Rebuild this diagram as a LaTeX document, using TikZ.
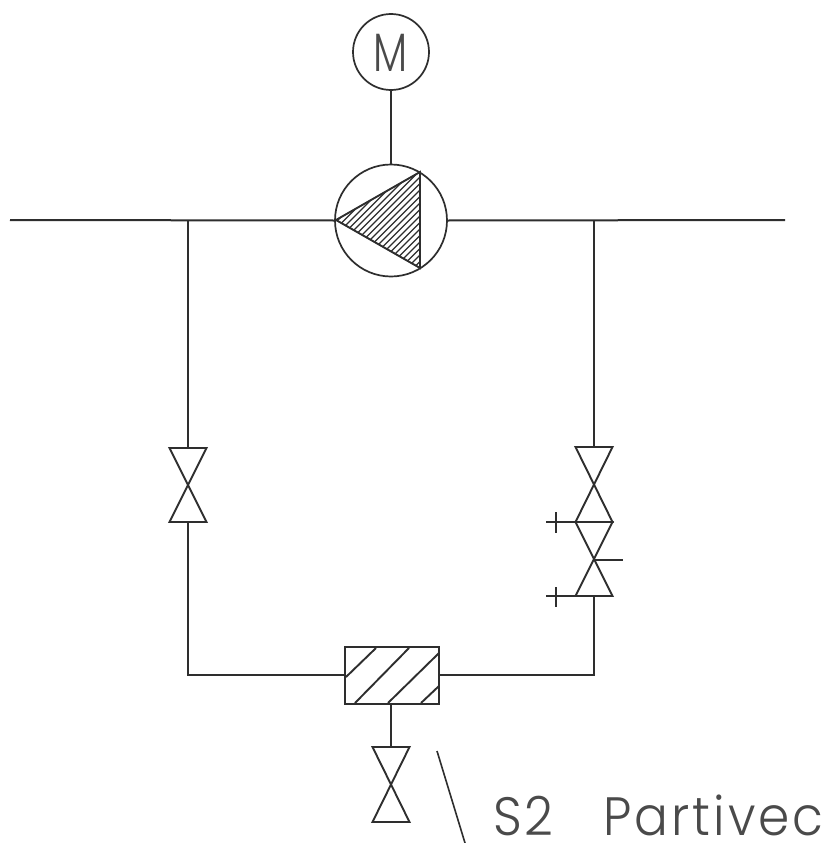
\documentclass[tikz,border=0pt]{standalone}
\usepackage{fontspec}
\newfontfamily\cadfont[LetterSpace=6]{Poppins Light}
\definecolor{ink}{HTML}{2E2E2E}
\definecolor{txt}{HTML}{4A4A4A}
\tikzset{
  pipe/.style={draw=ink,line width=2pt},
  symb/.style={draw=ink,line width=1.9pt,line join=miter},
  circ/.style={circle,draw=ink,line width=1.7pt,inner sep=0pt},
  lbl/.style={inner sep=0pt,text=txt,font=\cadfont\fontsize{54}{54}\selectfont,anchor=base west,xscale=0.93},
  hatchl/.style={draw=ink,line width=1.2pt},
}
% valve: \myvalve{x}{top y}{waist y}{bottom y}{half width}
\newcommand{\myvalve}[5]{\draw[symb] (#1-#5,#2) -- (#1+#5,#2) -- (#1-#5,#4) -- (#1+#5,#4) -- cycle;}
\begin{document}
\begin{tikzpicture}[x=1pt,y=-1pt]
\useasboundingbox (0,0) rectangle (825,843);
\fill[white] (0,0) rectangle (825,843);
% nodes
\node[circ,minimum size=76pt] (motor) at (391,52) {};
\node[inner sep=0pt,text=txt,font=\cadfont\fontsize{54}{54}\selectfont,xscale=0.75] (mlabel) at (391,53) {M};
\node[circ,minimum size=112pt] (pump) at (391,220.5) {};
\node[draw=ink,line width=1.9pt,minimum width=94pt,minimum height=57pt,inner sep=0pt] (filter) at (392,675.5) {};
% ends
\coordinate (inlet) at (10,220);
\coordinate (outlet) at (785,220);
\coordinate (teeL) at (188,220);
\coordinate (teeR) at (594,220);
\coordinate (vLt) at (188,448);
\coordinate (vLb) at (188,522);
\coordinate (vRt) at (594,447);
\coordinate (vRb) at (594,596);
\coordinate (cL) at (188,675);
\coordinate (cR) at (594,675);
\coordinate (vBt) at (391,747);
\coordinate (filtB) at (391,704);
% impeller
\begin{scope}
\clip (336,220) -- (420,172) -- (420,268) -- cycle;
\foreach \k in {-20,...,40}{
  \draw[hatchl] (330+\k*6.5,280) -- (330+\k*6.5+120,160);
}
\end{scope}
\draw[symb] (336,220) -- (420,172) -- (420,268) -- cycle;
% connectors
\draw[pipe] (motor.south) -- (pump.north);
\draw[pipe] (inlet) -- (pump.west);
\draw[pipe] (pump.east) -- (outlet);
\draw[pipe] (teeL) -- (vLt);
\draw[pipe] (teeR) -- (vRt);
\draw[pipe] (vLb) -- (cL) -- (filter.west |- cL);
\draw[pipe] (vRb) -- (cR) -- (filter.east |- cR);
\draw[pipe] (filtB) -- (vBt);
% valves
\myvalve{188}{448}{485}{522}{18.5}
\myvalve{594}{447}{484}{522}{18.5}
\myvalve{594}{522}{560}{596}{18.5}
\myvalve{391}{747}{784}{822}{18.5}
% handles
\draw[symb] (546,522) -- (576,522) (556,512) -- (556,533);
\draw[symb] (546,596) -- (576,596) (556,587) -- (556,607);
\draw[symb] (594,560) -- (623,560);
% filter hatch
\draw[symb] (346,677) -- (376,648);
\draw[symb] (355,703) -- (409,648);
\draw[symb] (388,703) -- (439,653);
\draw[symb] (421,703) -- (439,686);
% label
\draw[draw=ink,line width=1.6pt] (437,751) -- (465,843);
\node[lbl] (s2) at (493,835) {S2};
\node[lbl] (part) at (603,835) {Partivec};
\end{tikzpicture}
\end{document}
